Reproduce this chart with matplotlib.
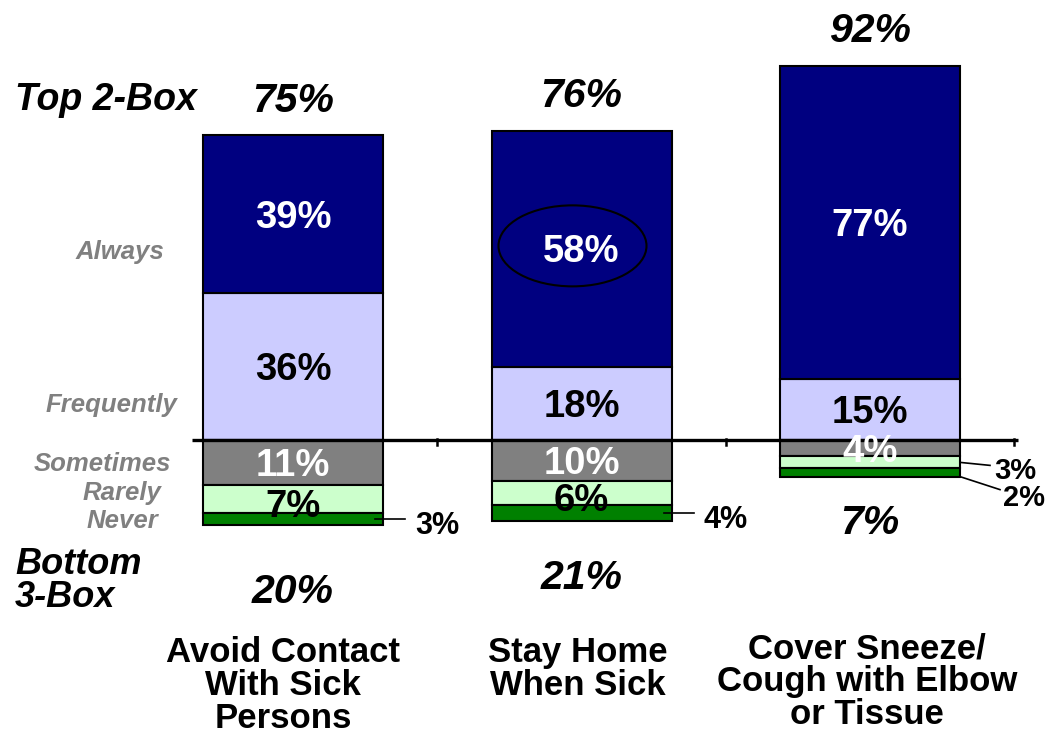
import matplotlib
matplotlib.use('Agg')
import matplotlib.pyplot as plt
from matplotlib.patches import Ellipse
from matplotlib import font_manager

# ---------------- data ----------------
categories = ["Avoid Contact\nWith Sick\nPersons",
              "Stay Home\nWhen Sick",
              "Cover Sneeze/\nCough with Elbow\nor Tissue"]
always = [39, 58, 77]
frequently = [36, 18, 15]
sometimes = [11, 10, 4]
rarely = [7, 6, 3]
never = [3, 4, 2]
top2 = [75, 76, 92]
bottom3 = [20, 21, 7]
scale_labels = ["Always", "Frequently", "Sometimes", "Rarely", "Never"]

# ---------------- style ----------------
C_ALWAYS = '#000080'
C_FREQ = '#CCCCFF'
C_SOME = '#808080'
C_RARE = '#CCFFCC'
C_NEVER = '#008000'

names = {f.name for f in font_manager.fontManager.ttflist}
FAM = 'Liberation Sans' if 'Liberation Sans' in names else 'DejaVu Sans'
NARROW = 'Liberation Sans Narrow' in names
CAT_FAM = 'Liberation Sans Narrow' if NARROW else FAM
CAT_SIZE = 29 if NARROW else 25

W, H = 1048, 734
X0, DX = 293.0, 288.5   # pixel x of first bar center, pixels per category
Y0, DY = 440.0, 4.07    # pixel y of baseline, pixels per percent


def X(px):
    return (px - X0) / DX


def Y(py):
    return (Y0 - py) / DY


fig = plt.figure(figsize=(W / 100, H / 100), dpi=100)
ax = fig.add_axes([0, 0, 1, 1])
ax.set_xlim(X(0), X(W))
ax.set_ylim(Y(H), Y(0))
ax.axis('off')

xs = list(range(len(categories)))
bw = 180 / DX
ek = dict(edgecolor='black', linewidth=1.5, width=bw, zorder=2)

neg_some = [-v for v in sometimes]
neg_rare = [-v for v in rarely]
neg_never = [-v for v in never]
ax.bar(xs, frequently, color=C_FREQ, **ek)
ax.bar(xs, always, bottom=frequently, color=C_ALWAYS, **ek)
ax.bar(xs, neg_some, color=C_SOME, **ek)
ax.bar(xs, neg_rare, bottom=neg_some, color=C_RARE, **ek)
ax.bar(xs, neg_never, bottom=[a + b for a, b in zip(neg_some, neg_rare)],
       color=C_NEVER, **ek)

# baseline
ax.plot([X(192), X(1018)], [0, 0], color='black', lw=2.4, zorder=4,
        solid_capstyle='butt')
for t in [0.5, 1.5, 2.5]:
    ax.plot([t, t], [Y(439), Y(445)], color='black', lw=1.8, zorder=4)


def ctext(x, yc, s, size, color='black', style='normal', ha='center', family=None):
    """Place text so that the cap-height centre sits at yc (data)."""
    cap = 0.716 * size * 100 / 72
    ax.text(x, yc - (cap / 2) / DY, s, fontsize=size, color=color,
            fontweight='bold', fontstyle=style, ha=ha, va='baseline',
            family=family or FAM, zorder=5)


IN = 27.5
for i in xs:
    f, a, s, r, n = frequently[i], always[i], sometimes[i], rarely[i], never[i]
    ctext(i, f + a / 2, f"{a}%", IN, 'white')
    ctext(i, f / 2, f"{f}%", IN, 'black')
    ctext(i, -s / 2, f"{s}%", IN, 'white')
    if i < 2:
        ctext(i, -(s + r / 2) - 1, f"{r}%", IN, 'black')
        # never label with leader line
        yn = -(s + r + n / 2)
        xr = i + bw / 2
        ax.plot([xr - 8 / DX, xr + 22 / DX], [yn, yn], color='black', lw=1.2, zorder=5)
        ctext(xr + 32 / DX, yn - 4 / DY, f"{n}%", 22, 'black', ha='left')
    else:
        xr = i + bw / 2
        yr = -(s + r / 2)
        ax.plot([xr, xr + 30 / DX], [yr, yr - 3 / DY], color='black', lw=1.2, zorder=5)
        ctext(xr + 34 / DX, yr - 6 / DY, f"{r}%", 21, 'black', ha='left')
        yn = -(s + r + n / 2) - 1
        ax.plot([xr, xr + 40 / DX], [yn, yn - 13 / DY], color='black', lw=1.2, zorder=5)
        ctext(xr + 43 / DX, yn - 19 / DY, f"{n}%", 21, 'black', ha='left')

# ellipse highlight around "Stay Home" always value
ax.add_patch(Ellipse((1 - 9 / DX, frequently[1] + always[1] / 2 + 0.7), 148 / DX, 81 / DY,
                     fill=False, edgecolor='black', lw=1.5, zorder=6))

# top 2-box totals
for i in xs:
    ctext(i, top2[i] + 9.3, f"{top2[i]}%", 29.5, 'black', style='italic')

# bottom 3-box totals
bot_off = [15.5, 13.0, 10.5]  # gap below bar bottom, percent units
for i in xs:
    bot = -(sometimes[i] + rarely[i] + never[i])
    ctext(i, bot - bot_off[i], f"{bottom3[i]}%", 29.5, 'black', style='italic')

# left side labels
ctext(X(15), Y(97), "Top 2-Box", 27, 'black', style='italic', ha='left')
ctext(X(15), Y(561), "Bottom", 26, 'black', style='italic', ha='left')
ctext(X(15), Y(594), "3-Box", 26, 'black', style='italic', ha='left')

scale_pos = [(120, 250), (111, 403), (102, 462), (122, 491), (122, 519)]
for lab, (px, py) in zip(scale_labels, scale_pos):
    ctext(X(px), Y(py), lab, 18.5, '#808080', style='italic')

# category labels
cat_dx = [-10, -4, -3]
cat_top = [650, 650, 646]
for i, cat in enumerate(categories):
    for k, line in enumerate(cat.split('\n')):
        ctext(i + cat_dx[i] / DX, Y(cat_top[i] + 33 * k), line, CAT_SIZE,
              'black', family=CAT_FAM)

fig.savefig('out.png', dpi=100)
